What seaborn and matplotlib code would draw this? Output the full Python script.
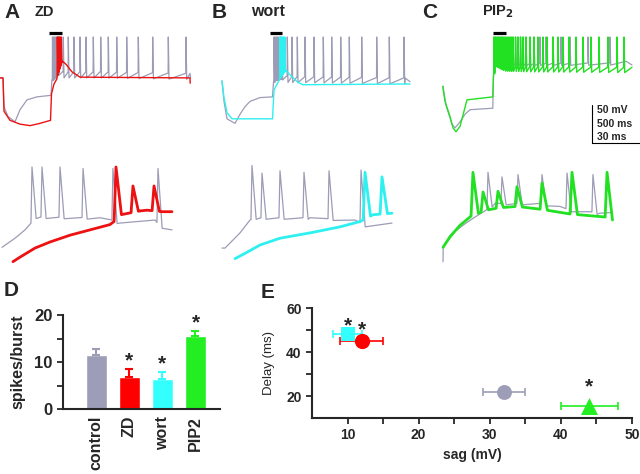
import numpy as np
import matplotlib
matplotlib.use("Agg")
import matplotlib.pyplot as plt
import seaborn as sns

sns.set_style("ticks")
plt.rcParams["font.family"] = ["Liberation Sans", "DejaVu Sans"]
plt.rcParams["font.weight"] = "bold"

GREY = "#9c9cb6"
RED = "#ee1111"
CYAN = "#2ff0f0"
GREEN = "#22e022"

# ---------------- traces, whole step (ms, mV) ----------------
A_CTRL_BASE = [(0, -24), (30, -24), (40, -62), (80, -75), (150, -82), (200, -66), (270, -53),
               (370, -49), (510, -47), (518, -28), (530, -20), (590, -12), (625, -16),
               (1000, -16), (1900, -18), (1905, -24)]
A_CTRL_SPIKES = [525, 535, 545, 555, 565, 575, 585, 633, 683, 740, 800, 860, 933, 1007,
                 1083, 1167, 1267, 1383, 1527, 1683, 1860]
A_ZD_BASE = [(0, -24), (30, -24), (40, -68), (100, -80), (200, -85), (300, -87), (400, -84),
             (505, -80), (515, -45), (540, -32), (566, -26), (625, -2), (660, -6), (720, -16),
             (800, -23), (1900, -24), (1902, -31)]
A_ZD_SPIKES = [573, 583, 593, 603, 613]

B_CTRL_BASE = [(120, -28), (140, -55), (170, -78), (250, -84), (300, -72), (350, -62),
               (400, -55), (500, -50), (625, -49), (635, -30), (650, -20), (720, -18),
               (760, -22), (1950, -24), (2000, -29)]
B_CTRL_SPIKES = [640, 650, 660, 670, 680, 692, 705, 720, 773, 820, 873, 950, 1040, 1133,
                 1217, 1307, 1393, 1517, 1667, 1793, 1940]
B_WORT_BASE = [(120, -28), (140, -50), (170, -70), (220, -78), (625, -78), (640, -40),
               (680, -30), (695, -26), (760, -14), (800, -20), (880, -30), (930, -33),
               (2000, -32)]
B_WORT_SPIKES = [700, 712, 724, 736, 748]

C_CTRL_BASE = [(230, -35), (260, -60), (320, -85), (350, -90), (400, -82), (450, -72),
               (500, -66), (728, -64), (735, -20), (760, -5), (2000, -4), (2060, -2),
               (2120, -7)]
C_CTRL_SPIKES = [740, 755, 770, 785, 800, 815, 830, 850, 870, 890, 910, 930, 955, 980,
                 1005, 1030, 1060, 1100, 1140, 1200, 1260, 1330, 1410, 1500, 1680, 1900]
C_PIP2_BASE = [(230, -35), (232, -40), (250, -55), (300, -75), (330, -90), (360, -95),
               (400, -88), (470, -53), (600, -51), (728, -49), (735, -20), (760, -2),
               (850, -8), (1100, -9), (2120, -10)]
C_PIP2_SPIKES = [740, 755, 770, 785, 800, 815, 830, 850, 870, 890, 910, 930, 955, 980,
                 1005, 1030, 1060, 1100, 1140, 1180, 1230, 1270, 1330, 1380, 1430, 1490,
                 1560, 1630, 1710, 1790, 1880, 1970, 2040]

# ---------------- traces, zoomed burst (ms, mV) ----------------
A_CTRL_ZOOM_BASE = [(1.25, -76), (9.4, -64), (15.6, -53), (19.4, -44), (21.9, -36),
                    (28.1, -36), (62.5, -37), (70, -40), (75, -44), (96.9, -40), (100, -48),
                    (107.5, -53)]
A_CTRL_ZOOM_SPIKES = [20, 26.25, 37.5, 51.9, 70.6, 98.75]
A_CTRL_ZOOM_TOPS = [30, 30, 30, 28, 28, 28]
A_ZD_ZOOM_BASE = [(8.1, -95), (12.5, -89), (21.9, -77), (31.25, -69), (43.75, -60),
                  (56.25, -53), (68.75, -46), (71.25, -42), (75.6, -33), (87.5, -28),
                  (91.9, -27), (101.25, -29), (107.5, -29)]
A_ZD_ZOOM_SPIKES = [72.5, 83.1, 96.25]
A_ZD_ZOOM_TOPS = [30, 5, 5]

B_CTRL_ZOOM_BASE = [(7.5, -77), (9.4, -77), (18.75, -57), (25, -40), (28.1, -37),
                    (62.5, -37), (90.6, -40), (96.9, -47), (113.75, -44)]
B_CTRL_ZOOM_SPIKES = [26.25, 32.5, 43.75, 58.75, 74.4, 94.4]
B_CTRL_ZOOM_TOPS = [32, 22, 25, 23, 25, 26]
B_WORT_ZOOM_BASE = [(15.6, -91), (21.9, -84), (31.25, -73), (43.75, -64), (62.5, -57),
                    (81.25, -49), (93.75, -42), (101.9, -33), (113.75, -31)]
B_WORT_ZOOM_SPIKES = [96.9, 107.5]
B_WORT_ZOOM_TOPS = [23, 17]

C_CTRL_ZOOM_BASE = [(14.4, -95), (14.5, -76), (21.9, -55), (28.1, -45), (34.4, -36),
                    (40.6, -28), (46.9, -18), (75, -18), (87.5, -22), (93.75, -27),
                    (106.25, -29), (112.5, -31), (120, -30)]
C_CTRL_ZOOM_SPIKES = [42.5, 51.25, 61.25, 76.25, 91.9, 108.1]
C_CTRL_ZOOM_TOPS = [23, 17, 20, 20, 22, 20]
C_PIP2_ZOOM_BASE = [(14.4, -76), (18.75, -62), (25, -47), (31.25, -36), (33, -33),
                    (35, -33), (39.4, -28), (48.75, -24), (60.6, -22), (76.25, -26),
                    (93.75, -32), (115.6, -36), (120, -40)]
C_PIP2_ZOOM_SPIKES = [33.1, 39.4, 48.75, 60.6, 76.25, 95, 116.9]
C_PIP2_ZOOM_TOPS = [23, -3, -2, 4, 9, 23, 23]

ZOOM_WIN = [(490, 620), (600, 720), (730, 860)]
SCALE_MV, SCALE_MS_LONG, SCALE_MS_SHORT = 50, 500, 30

# ---------------- panel D ----------------
D_GROUPS = ["control", "ZD", "wort", "PIP2"]
D_MEAN = [11.5, 6.8, 6.4, 15.5]
D_SEM = [1.2, 1.7, 1.5, 1.1]
D_SIG = [False, True, True, True]
D_COLORS = ["#9d9db7", "#ff0000", "#33ffff", "#22ee22"]

# ---------------- panel E ----------------
E_GROUPS = ["control", "wort", "ZD", "PIP2"]
E_SAG = [32, 10, 12, 44]
E_SAG_ERR = [3, 2, 3, 4]
E_DELAY = [22, 48, 45, 15.5]
E_SIG = [False, True, True, True]
E_COLORS = ["#9d9db7", "#33ffff", "#ff0000", "#22ee22"]
E_MARKERS = ["o", "s", "o", "^"]
E_SIZES = [115, 90, 120, 150]


def with_spikes(base, spikes, tops, w, ahp, rise=0.25):
    bt = np.array([p[0] for p in base], float)
    bv = np.array([p[1] for p in base], float)
    spikes = np.asarray(spikes, float)
    tops = np.broadcast_to(np.asarray(tops, float), spikes.shape)
    pts = [(t, v) for t, v in base
           if not np.any((t > spikes - w * rise) & (t < spikes + w))]
    for s, top in zip(spikes, tops):
        pts.append((s - w * rise, np.interp(s - w * rise, bt, bv)))
        pts.append((s, top))
        pts.append((s + w, np.interp(s + w, bt, bv) - ahp))
    pts.sort(key=lambda p: p[0])
    return np.array(pts)


def draw(ax, trace, color, lw):
    sns.lineplot(x=trace[:, 0], y=trace[:, 1], sort=False, estimator=None,
                 color=color, lw=lw, ax=ax)


fig = plt.figure(figsize=(6.4, 4.74), dpi=100)


def px_axes(x0, y0, x1, y1):
    return fig.add_axes([x0 / 640, 1 - y1 / 474, (x1 - x0) / 640, (y1 - y0) / 474])


def volt(y, y_top):
    return 30 - (y - y_top) * 1.32


panels = [
    (0, (A_CTRL_BASE, A_CTRL_SPIKES, 8), (A_ZD_BASE, A_ZD_SPIKES, 0), RED,
     (A_CTRL_ZOOM_BASE, A_CTRL_ZOOM_SPIKES, A_CTRL_ZOOM_TOPS),
     (A_ZD_ZOOM_BASE, A_ZD_ZOOM_SPIKES, A_ZD_ZOOM_TOPS)),
    (210, (B_CTRL_BASE, B_CTRL_SPIKES, 8), (B_WORT_BASE, B_WORT_SPIKES, 0), CYAN,
     (B_CTRL_ZOOM_BASE, B_CTRL_ZOOM_SPIKES, B_CTRL_ZOOM_TOPS),
     (B_WORT_ZOOM_BASE, B_WORT_ZOOM_SPIKES, B_WORT_ZOOM_TOPS)),
    (420, (C_CTRL_BASE, C_CTRL_SPIKES, 3), (C_PIP2_BASE, C_PIP2_SPIKES, 7), GREEN,
     (C_CTRL_ZOOM_BASE, C_CTRL_ZOOM_SPIKES, C_CTRL_ZOOM_TOPS),
     (C_PIP2_ZOOM_BASE, C_PIP2_ZOOM_SPIKES, C_PIP2_ZOOM_TOPS)),
]

for i, (x0, ctrl, drug, col, zctrl, zdrug) in enumerate(panels):
    x1 = min(x0 + 220, 640)
    ax = px_axes(x0, 28, x1, 150)
    ax.set_xlim(0, (x1 - x0) * 10)
    ax.set_ylim(volt(150, 37), volt(28, 37))
    ax.axis("off")
    draw(ax, with_spikes(ctrl[0], ctrl[1], 30, 7, ctrl[2]), GREY, 0.9)
    draw(ax, with_spikes(drug[0], drug[1], 30, 7, drug[2]), col, 1.0)
    ax.plot(ZOOM_WIN[i], [volt(33, 37)] * 2, color="black", lw=2.3,
            solid_capstyle="butt")

    axz = px_axes(x0, 160, x1, 270)
    axz.set_xlim(0, (x1 - x0) * 0.625)
    axz.set_ylim(volt(270, 167), volt(160, 167))
    axz.axis("off")
    draw(axz, with_spikes(zctrl[0], zctrl[1], zctrl[2], 2.6, 2), GREY, 0.9)
    draw(axz, with_spikes(zdrug[0], zdrug[1], zdrug[2], 3.4, 0, rise=0.35), col, 2.0)
    if i == 2:
        sx, sy = (592 - 420) * 10, volt(143, 37)
        ax.plot([sx, sx], [sy, sy + SCALE_MV], color="black", lw=0.8)
        ax.plot([sx, sx + SCALE_MS_LONG], [sy, sy], color="black", lw=0.8)
        for k, txt in enumerate([f"{SCALE_MV} mV", f"{SCALE_MS_LONG} ms",
                                 f"{SCALE_MS_SHORT} ms"]):
            ax.text(sx + 50, volt(110 + 13.5 * k, 37), txt, fontsize=7.5,
                    fontweight="bold", va="center", ha="left")

# panel letters and titles
for x, y, s, size in [(4, 12, "A", 15), (212, 12, "B", 15), (422, 12, "C", 15),
                      (4, 290, "D", 15), (261, 293, "E", 15)]:
    fig.text(x / 640, 1 - y / 474, s, fontsize=size, fontweight="bold", va="center")
for x, s, size in [(35, "ZD", 10.5), (251, "wort", 11.5), (482, r"PIP$_\mathbf{2}$", 10.5)]:
    fig.text(x / 640, 1 - 12 / 474, s, fontsize=size, fontweight="bold", va="center")

# ---------------- panel D ----------------
axD = px_axes(63, 315, 220, 409)
sns.barplot(x=D_GROUPS, y=D_MEAN, hue=D_GROUPS, palette=D_COLORS, legend=False,
            width=0.63, saturation=1, ax=axD)
for k, (m, e, c) in enumerate(zip(D_MEAN, D_SEM, D_COLORS)):
    axD.errorbar(k, m, yerr=[[0], [e]], fmt="none", ecolor=c, elinewidth=1.5,
                 capsize=3, capthick=1.5)
    if D_SIG[k]:
        axD.annotate("*", (k, m + e), xytext=(0, 6), textcoords="offset points",
                     ha="center", va="center", fontsize=15, fontweight="bold")
axD.set_xlim(-1.0, 3.74)
axD.set_ylim(0, 20)
axD.set_yticks([0, 10, 20])
axD.set_yticks([5, 15], minor=True)
axD.tick_params(axis="y", which="both", direction="out", length=4, width=1.3,
                labelsize=12)
axD.tick_params(axis="x", length=0, labelsize=11.5, labelrotation=90, pad=5)
axD.set_ylabel("spikes/burst", fontsize=11.5, fontweight="bold", labelpad=6)
for lbl in axD.get_xticklabels() + axD.get_yticklabels():
    lbl.set_fontweight("bold")
sns.despine(ax=axD)
for sp in ("left", "bottom"):
    axD.spines[sp].set_linewidth(1.5)

# ---------------- panel E ----------------
axE = px_axes(312, 308, 632, 418)
for k in range(len(E_GROUPS)):
    axE.errorbar(E_SAG[k], E_DELAY[k], xerr=E_SAG_ERR[k], fmt="none",
                 ecolor=E_COLORS[k], elinewidth=1.2, capsize=3, capthick=1.2)
    sns.scatterplot(x=[E_SAG[k]], y=[E_DELAY[k]], marker=E_MARKERS[k], s=E_SIZES[k],
                    color=E_COLORS[k], edgecolor=E_COLORS[k], linewidth=0, ax=axE,
                    zorder=3)
offsets = {"wort": 6, "ZD": 8, "PIP2": 14}
for k, g in enumerate(E_GROUPS):
    if E_SIG[k]:
        axE.annotate("*", (E_SAG[k], E_DELAY[k]), xytext=(0, offsets[g]),
                     textcoords="offset points", ha="center", va="center",
                     fontsize=15, fontweight="bold")
axE.set_xlim(5, 50)
axE.set_ylim(10, 60)
axE.set_xticks([10, 20, 30, 40, 50])
axE.set_xticks([15, 25, 35, 45], minor=True)
axE.set_yticks([20, 40, 60])
axE.set_yticks([30, 50], minor=True)
axE.tick_params(which="both", direction="out", length=4, width=1.3, labelsize=10)
axE.set_xlabel("sag (mV)", fontsize=10, fontweight="bold", labelpad=4)
axE.set_ylabel("Delay (ms)", fontsize=9.5, fontweight="normal", labelpad=8)
for lbl in axE.get_xticklabels() + axE.get_yticklabels():
    lbl.set_fontweight("bold")
sns.despine(ax=axE)
for sp in ("left", "bottom"):
    axE.spines[sp].set_linewidth(1.5)

fig.savefig("out.png", dpi=100)
